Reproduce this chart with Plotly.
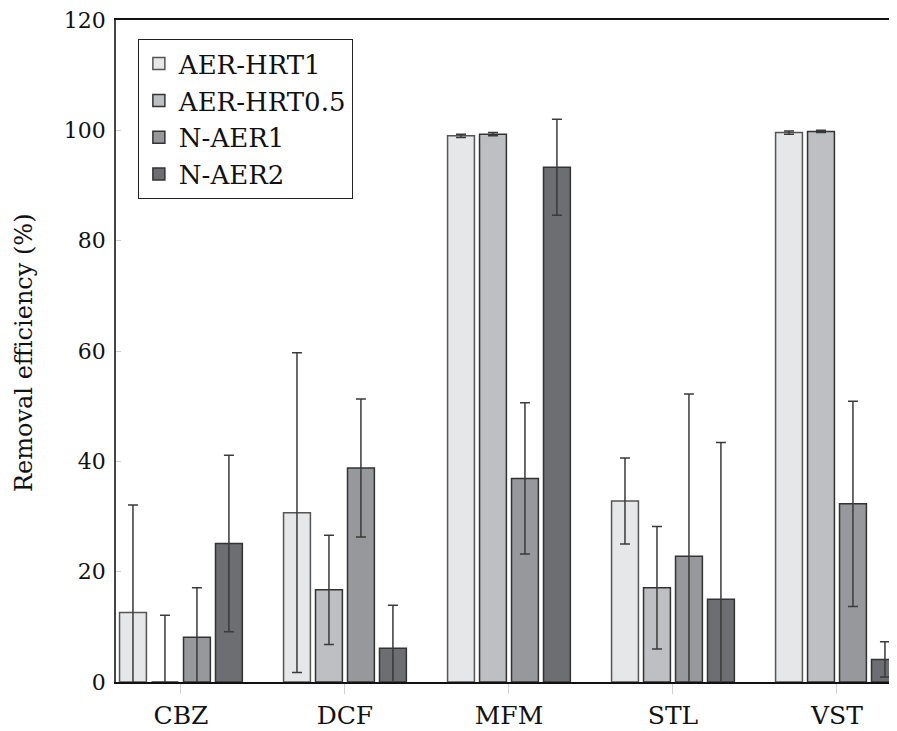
import plotly.graph_objects as go

categories = ["CBZ", "DCF", "MFM", "STL", "VST"]
series_names = ["AER-HRT1", "AER-HRT0.5", "N-AER1", "N-AER2"]

aer_hrt1 = [12.6, 30.7, 99.0, 32.8, 99.6]
aer_hrt1_err = [19.5, 29.0, 0.3, 7.8, 0.3]
aer_hrt05 = [0.0, 16.7, 99.3, 17.1, 99.8]
aer_hrt05_err = [12.1, 9.9, 0.3, 11.1, 0.2]
n_aer1 = [8.1, 38.8, 36.9, 22.8, 32.3]
n_aer1_err = [9.0, 12.5, 13.7, 29.4, 18.6]
n_aer2 = [25.1, 6.1, 93.3, 15.0, 4.1]
n_aer2_err = [16.0, 7.8, 8.7, 28.4, 3.2]

values = [aer_hrt1, aer_hrt05, n_aer1, n_aer2]
errors = [aer_hrt1_err, aer_hrt05_err, n_aer1_err, n_aer2_err]
fills = ["#e6e7e9", "#bebfc2", "#97989b", "#6d6e71"]
edges = ["#555555", "#333333", "#333333", "#333333"]

FONT = "DejaVu Serif"
fig = go.Figure()
for name, v, e, c, ec in zip(series_names, values, errors, fills, edges):
    fig.add_trace(go.Bar(
        name=name, x=categories, y=v,
        marker=dict(color=c, line=dict(color=ec, width=1.5)),
        error_y=dict(type="data", array=e, visible=True, color="#3a3a3a",
                     thickness=1.5, width=5),
    ))

# page body has an 8px margin: figure is placed at (8, 8)
fig.update_layout(
    width=889, height=723,
    margin=dict(l=108, r=0, t=10, b=49),
    paper_bgcolor="white", plot_bgcolor="white",
    barmode="group", bargap=0.22, bargroupgap=0.16,
    font=dict(family=FONT, size=24, color="#111111"),
    showlegend=True,
    legend=dict(x=0.028, y=0.971, xanchor="left", yanchor="top",
                bordercolor="#222222", borderwidth=1, bgcolor="white",
                font=dict(family=FONT, size=26), tracegroupgap=0,
                itemwidth=30),
    annotations=[dict(text="Removal efficiency (%)", textangle=-90,
                      xref="paper", yref="paper", x=-0.1178, y=0.4985,
                      xanchor="center", yanchor="middle", showarrow=False,
                      font=dict(family=FONT, size=24))],
)
fig.update_xaxes(
    range=[-0.396, 4.366], showline=True, linecolor="#111111", linewidth=1.5,
    mirror=True, ticks="outside", ticklen=10, tickcolor="#d0d0d0",
    showgrid=False, tickfont=dict(family=FONT, size=25),
)
fig.update_yaxes(
    range=[0, 120], tickvals=[0, 20, 40, 60, 80, 100, 120],
    showline=True, linecolor="#444444", linewidth=1.5, mirror=False,
    ticks="inside", ticklen=5, tickcolor="#d0d0d0", showgrid=False,
    zeroline=False, ticklabelstandoff=4, ticklabeloverflow="allow",
    tickfont=dict(family=FONT, size=22),
)
fig.write_html("out.html")
